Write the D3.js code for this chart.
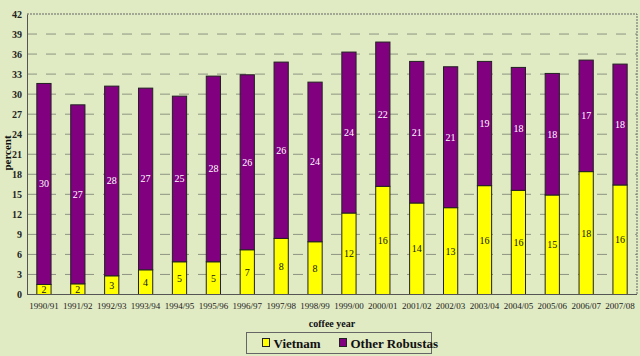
<!DOCTYPE html>
<html><head><meta charset="utf-8">
<script src="https://cdn.jsdelivr.net/npm/d3@7/dist/d3.min.js"></script>
<style>html,body{margin:0;padding:0;background:#E0EAC3;}svg{display:block;}</style>
</head><body>
<script>
const years = ["1990/91","1991/92","1992/93","1993/94","1994/95","1995/96","1996/97","1997/98","1998/99","1999/00","2000/01","2001/02","2002/03","2003/04","2004/05","2005/06","2006/07","2007/08"];
const vietnam = [1.5,1.6,2.8,3.7,4.9,4.9,6.7,8.4,7.9,12.2,16.2,13.7,13.0,16.3,15.6,14.9,18.4,16.4];
const others = [30.1,26.8,28.4,27.2,24.8,27.8,26.2,26.4,23.9,24.1,21.6,21.2,21.1,18.6,18.4,18.2,16.7,18.1];
const yTicks = [0,3,6,9,12,15,18,21,24,27,30,33,36,39,42];
const seriesNames = ["Vietnam","Other Robustas"];
const colors = ["#FFFF00","#800080"];

const W=640,H=356;
const m={left:27,right:3,top:14,bottom:62};
const svg=d3.select("body").append("svg").attr("width",W).attr("height",H);
svg.append("rect").attr("width",W).attr("height",H).attr("fill","#E0EAC3");

const x=d3.scaleBand().domain(years).range([m.left,W-m.right]).paddingInner(0.58).paddingOuter(0.29);
const y=d3.scaleLinear().domain([0,42]).range([H-m.bottom+0.5,m.top]);

// gridlines
svg.append("g").selectAll("line").data(yTicks.filter(d=>d>0&&d<42)).join("line")
  .attr("x1",m.left).attr("x2",W-m.right).attr("y1",d=>y(d)).attr("y2",d=>y(d))
  .attr("stroke","#8e9582").attr("stroke-width",1).attr("stroke-dasharray","10,9");
// frame top and right
svg.append("path").attr("d",`M${m.left},${y(42)}H${W-m.right}V${y(0)}`)
  .attr("fill","none").attr("stroke","#666").attr("stroke-width",1).attr("stroke-dasharray","2,1");

// y axis
const ya=svg.append("g").attr("transform",`translate(${m.left},0)`)
  .call(d3.axisLeft(y).tickValues(yTicks).tickSize(0).tickPadding(5));
ya.select(".domain").attr("stroke","#555");
ya.selectAll("text").attr("font-family","Liberation Serif").attr("font-size",10).attr("font-weight","bold").attr("fill","#222");

// bars
const stack=years.map((yr,i)=>({yr,v:vietnam[i],o:others[i]}));
const g=svg.append("g");
g.selectAll("rect.v").data(stack).join("rect").attr("class","v")
  .attr("x",d=>x(d.yr)).attr("width",x.bandwidth())
  .attr("y",d=>y(d.v)).attr("height",d=>y(0)-y(d.v))
  .attr("fill",colors[0]).attr("stroke","#222").attr("stroke-width",1);
g.selectAll("rect.o").data(stack).join("rect").attr("class","o")
  .attr("x",d=>x(d.yr)).attr("width",x.bandwidth())
  .attr("y",d=>y(d.v+d.o)).attr("height",d=>y(d.v)-y(d.v+d.o))
  .attr("fill",colors[1]).attr("stroke","#222").attr("stroke-width",1);

// labels
g.selectAll("text.v").data(stack).join("text")
  .attr("x",d=>x(d.yr)+x.bandwidth()/2).attr("y",d=>y(d.v/2)+3.5)
  .attr("text-anchor","middle").attr("font-family","Liberation Serif").attr("font-size",10)
  .attr("fill","#111").text(d=>Math.round(d.v));
g.selectAll("text.o").data(stack).join("text")
  .attr("x",d=>x(d.yr)+x.bandwidth()/2).attr("y",d=>y(d.v+d.o/2)+3.5)
  .attr("text-anchor","middle").attr("font-family","Liberation Serif").attr("font-size",10)
  .attr("fill","#fff").text(d=>Math.round(d.o));

// x axis
const xa=svg.append("g").attr("transform",`translate(0,${y(0)})`)
  .call(d3.axisBottom(x).tickSize(0).tickPadding(8));
xa.select(".domain").attr("stroke","#555").attr("d",`M${m.left},0H${W-m.right}`);
xa.selectAll("text").attr("font-family","Liberation Serif").attr("font-size",9).attr("fill","#222");

// axis titles
svg.append("text").attr("x",(m.left+W-m.right)/2).attr("y",327).attr("text-anchor","middle")
  .attr("font-family","Liberation Serif").attr("font-size",10).attr("font-weight","bold").attr("fill","#111").text("coffee year");
svg.append("text").attr("transform","translate(11,153) rotate(-90)").attr("text-anchor","middle")
  .attr("font-family","Liberation Serif").attr("font-size",11).attr("font-weight","bold").attr("fill","#111").text("percent");

// legend
const lg=svg.append("g");
lg.append("rect").attr("x",246.5).attr("y",332.5).attr("width",185).attr("height",21)
  .attr("fill","none").attr("stroke","#666").attr("stroke-width",1);
const lx=[262.5,339.5];
seriesNames.forEach((n,i)=>{
  lg.append("rect").attr("x",lx[i]).attr("y",338.5).attr("width",7).attr("height",8)
    .attr("fill",colors[i]).attr("stroke","#222").attr("stroke-width",1);
  lg.append("text").attr("x",lx[i]+11).attr("y",347.5).attr("font-family","Liberation Serif").attr("font-size",13)
    .attr("font-weight","bold").attr("fill","#111").text(n);
});
</script>
</body></html>
